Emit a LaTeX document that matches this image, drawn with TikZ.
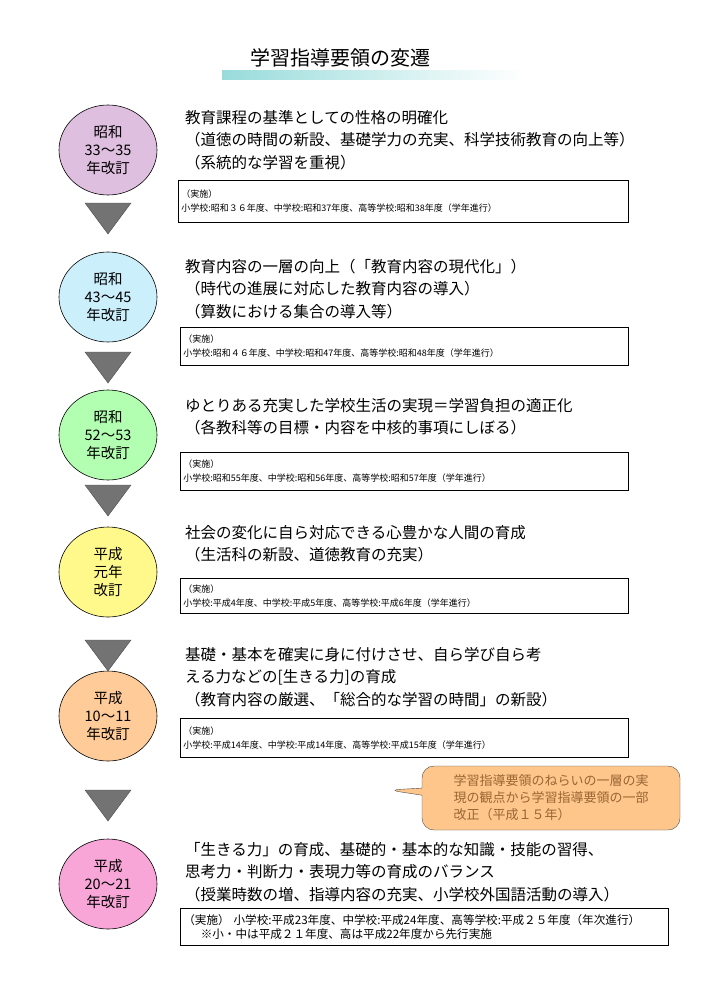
\documentclass[tikz,border=0pt]{standalone}
\usepackage{fontspec}
\setmainfont{Noto Sans CJK JP}
\usetikzlibrary{shapes.geometric,shapes.callouts}
\begin{document}
\begin{tikzpicture}[x=1pt,y=-1pt,
  era/.style={ellipse,draw=black,line width=0.6pt,minimum width=98pt,minimum height=90pt,align=center,font=\fontsize{14.5}{18}\selectfont,inner sep=0pt},
  tri/.style={fill=black!55,draw=black!70},
  main/.style={anchor=north west,align=left,font=\fontsize{15.5}{22.5}\selectfont,inner sep=0pt},
  imp/.style={anchor=north west,draw=black,line width=0.7pt,align=left,font=\fontsize{11.6}{14}\selectfont,inner sep=3pt}]
\useasboundingbox (0,0) rectangle (708,993);
\node (title) at (340,58) {\fontsize{20}{22}\selectfont 学習指導要領の変遷};
\shade[left color=cyan!30!teal!40,right color=white] (222,70) rectangle (525,79);

\node[era,fill=violet!25] (e1) at (108,150) {昭和\\33〜35\\年改訂};
\node[era,fill=cyan!20] (e2) at (108,297) {昭和\\43〜45\\年改訂};
\node[era,fill=green!30] (e3) at (108,435) {昭和\\52〜53\\年改訂};
\node[era,fill=yellow!45] (e4) at (108,572) {平成\\元年\\改訂};
\node[era,fill=orange!40] (e5) at (108,716) {平成\\10〜11\\年改訂};
\node[era,fill=magenta!35] (e6) at (108,884) {平成\\20〜21\\年改訂};

\foreach \y in {203,352,485,640,790}{\draw[tri] (85,\y) -- (131,\y) -- (108,\y+31) -- cycle;}

\node[main] (t1) at (185,110) {教育課程の基準としての性格の明確化\\（道徳の時間の新設、基礎学力の充実、科学技術教育の向上等）\\（系統的な学習を重視）};
\node[imp,text width=444pt,minimum height=42pt] (b1) at (178,180) {\small（実施）\\小学校:昭和３６年度、中学校:昭和37年度、高等学校:昭和38年度（学年進行）};

\node[main] (t2) at (185,259) {教育内容の一層の向上（「教育内容の現代化」）\\（時代の進展に対応した教育内容の導入）\\（算数における集合の導入等）};
\node[imp,text width=442pt,minimum height=38pt] (b2) at (180,327) {\small（実施）\\小学校:昭和４６年度、中学校:昭和47年度、高等学校:昭和48年度（学年進行）};

\node[main] (t3) at (185,398) {ゆとりある充実した学校生活の実現＝学習負担の適正化\\（各教科等の目標・内容を中核的事項にしぼる）};
\node[imp,text width=442pt,minimum height=38pt] (b3) at (180,452) {\small（実施）\\小学校:昭和55年度、中学校:昭和56年度、高等学校:昭和57年度（学年進行）};

\node[main] (t4) at (185,525) {社会の変化に自ら対応できる心豊かな人間の育成\\（生活科の新設、道徳教育の充実）};
\node[imp,text width=442pt,minimum height=35pt] (b4) at (180,578) {\small（実施）\\小学校:平成4年度、中学校:平成5年度、高等学校:平成6年度（学年進行）};

\node[main] (t5) at (185,647) {基礎・基本を確実に身に付けさせ、自ら学び自ら考\\える力などの[生きる力]の育成\\（教育内容の厳選、「総合的な学習の時間」の新設）};
\node[imp,text width=442pt,minimum height=39pt] (b5) at (180,718) {\small（実施）\\小学校:平成14年度、中学校:平成14年度、高等学校:平成15年度（学年進行）};

\node[rectangle callout,rounded corners=12pt,draw=black!70,fill=orange!45,minimum width=258pt,minimum height=64pt,
  callout absolute pointer={(388,790)},align=left,text=brown!80!black,font=\fontsize{13}{17}\selectfont] (c) at (551,798)
  {学習指導要領のねらいの一層の実\\現の観点から学習指導要領の一部\\改正（平成１５年）};

\node[main] (t6) at (185,842) {「生きる力」の育成、基礎的・基本的な知識・技能の習得、\\思考力・判断力・表現力等の育成のバランス\\（授業時数の増、指導内容の充実、小学校外国語活動の導入）};
\node[imp,text width=482pt,minimum height=37pt] (b6) at (180,908) {（実施） 小学校:平成23年度、中学校:平成24年度、高等学校:平成２５年度（年次進行）\\\hspace{1.5em}※小・中は平成２１年度、高は平成22年度から先行実施};
\end{tikzpicture}
\end{document}
